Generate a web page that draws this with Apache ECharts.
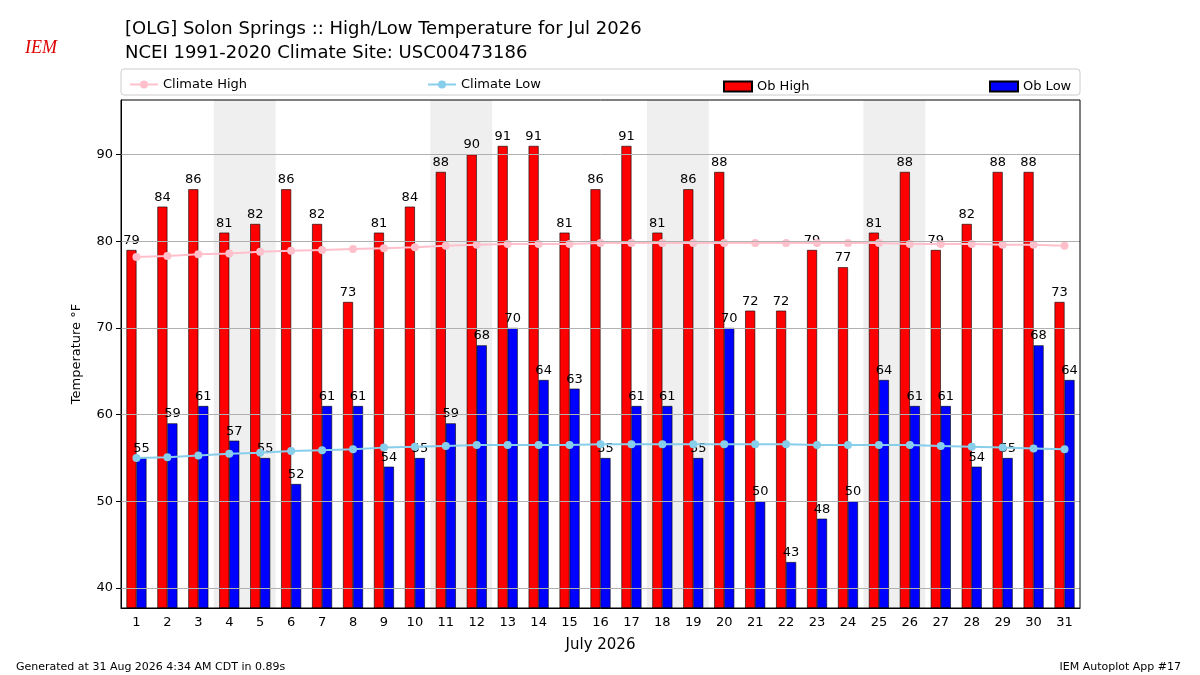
<!DOCTYPE html>
<html><head><meta charset="utf-8">
<script src="https://cdn.jsdelivr.net/npm/echarts@6/dist/echarts.min.js"></script>
<style>html,body{margin:0;padding:0;background:#fff}#main{width:1200px;height:675px}</style>
</head><body><div id="main"></div>
<script>
var days = [];
for (var d = 1; d <= 31; d++) days.push(String(d));
var obHigh = [79,84,86,81,82,86,82,73,81,84,88,90,91,91,81,86,91,81,86,88,72,72,79,77,81,88,79,82,88,88,73];
var obLow = [55,59,61,57,55,52,61,61,54,55,59,68,70,64,63,55,61,61,55,70,50,43,48,50,64,61,61,54,55,68,64];
var climHigh = [78.2,78.3,78.5,78.6,78.8,78.9,79.0,79.1,79.2,79.3,79.5,79.6,79.7,79.7,79.7,79.8,79.8,79.8,79.8,79.8,79.8,79.8,79.8,79.8,79.8,79.7,79.7,79.7,79.6,79.6,79.5];
var climLow = [55.0,55.1,55.3,55.5,55.6,55.8,55.9,56.0,56.2,56.3,56.4,56.5,56.5,56.5,56.5,56.6,56.6,56.6,56.6,56.6,56.6,56.6,56.5,56.5,56.5,56.5,56.4,56.3,56.2,56.1,56.0];
var yTicks = [40,50,60,70,80,90];
var weekends = [[3.5,5.5],[10.5,12.5],[17.5,19.5],[24.5,26.5]];

var font = 'DejaVu Sans';
var myChart = echarts.init(document.getElementById('main'));
var barLabel = {show: true, position: 'top', color: '#000', fontSize: 13, fontFamily: font, distance: 3};

var option = {
    animation: false,
    textStyle: {fontFamily: font},
    title: [
        {text: '[OLG] Solon Springs :: High/Low Temperature for Jul 2026\nNCEI 1991-2020 Climate Site: USC00473186',
         left: 120, top: 12, textStyle: {fontSize: 18, fontWeight: 'normal', color: '#000', lineHeight: 24, fontFamily: font}},
        {text: 'Generated at 31 Aug 2026 4:34 AM CDT in 0.89s', left: 11, top: 657,
         textStyle: {fontSize: 11, fontWeight: 'normal', color: '#000', fontFamily: font}},
        {text: 'IEM Autoplot App #17', right: 14, top: 657,
         textStyle: {fontSize: 11, fontWeight: 'normal', color: '#000', fontFamily: font}},
        {text: 'IEM', left: 20, top: 34, textStyle: {fontSize: 18, fontStyle: 'italic', fontWeight: 'normal', color: '#d00', fontFamily: 'Liberation Serif'}}
    ],
    graphic: [
        {type: 'rect', shape: {x: 121, y: 69, width: 959, height: 26, r: 3}, style: {fill: '#fff', stroke: '#ccc', lineWidth: 1}, z: -1},
        {type: 'rect', shape: {x: 121, y: 100, width: 959, height: 508}, style: {fill: 'none', stroke: '#000', lineWidth: 1}, z: 10, silent: true}
    ],
    legend: [
        {data: ['Climate High'], left: 124, top: 73, itemWidth: 28, itemHeight: 10, textStyle: {fontSize: 13, color: '#000'}},
        {data: ['Climate Low'], left: 422, top: 73, itemWidth: 28, itemHeight: 10, textStyle: {fontSize: 13, color: '#000'}},
        {data: [{name: 'Ob High', icon: 'rect'}], left: 718, top: 75, itemWidth: 28, itemHeight: 10, textStyle: {fontSize: 13, color: '#000'}},
        {data: [{name: 'Ob Low', icon: 'rect'}], left: 984, top: 75, itemWidth: 28, itemHeight: 10, textStyle: {fontSize: 13, color: '#000'}}
    ],
    grid: {left: 121, right: 120, top: 100, bottom: 67},
    xAxis: [
        {type: 'category', data: days,
         name: 'July 2026', nameLocation: 'middle', nameGap: 30, nameTextStyle: {fontSize: 15, color: '#000'},
         axisLine: {lineStyle: {color: '#000'}}, axisTick: {alignWithLabel: true, lineStyle: {color: '#000'}},
         axisLabel: {color: '#000', fontSize: 13, interval: 0}},
        {type: 'value', min: 0.5, max: 31.5, show: false}
    ],
    yAxis: {type: 'value', min: 37.7, max: 96.3,
        name: 'Temperature °F', nameLocation: 'middle', nameGap: 38, nameTextStyle: {fontSize: 13, color: '#000'},
        axisLine: {show: true, lineStyle: {color: '#000'}},
        axisTick: {show: true, customValues: yTicks, lineStyle: {color: '#000'}},
        axisLabel: {color: '#000', fontSize: 13, customValues: yTicks},
        splitLine: {show: false}},
    series: [
        {name: 'bg', type: 'line', xAxisIndex: 1, data: [[1, 0]], showSymbol: false, silent: true, z: 0,
         markArea: {silent: true, itemStyle: {color: '#efefef'},
            data: weekends.map(function (w) { return [{xAxis: w[0]}, {xAxis: w[1]}]; })},
         markLine: {silent: true, symbol: 'none', label: {show: false},
            lineStyle: {color: '#b0b0b0', type: 'solid', width: 1},
            data: yTicks.map(function (v) { return {yAxis: v}; })}},
        {name: 'Ob High', type: 'bar', data: obHigh, barWidth: 10, barGap: '0%', z: 2,
         itemStyle: {color: '#ff0000', borderColor: '#000', borderWidth: 0.6}, label: barLabel},
        {name: 'Ob Low', type: 'bar', data: obLow, barWidth: 10, z: 2,
         itemStyle: {color: '#0000ff', borderColor: '#000', borderWidth: 0.6}, label: barLabel},
        {name: 'Climate High', type: 'line', data: climHigh, symbol: 'circle', symbolSize: 8, z: 3,
         itemStyle: {color: '#ffc0cb'}, lineStyle: {color: '#ffc0cb', width: 2}},
        {name: 'Climate Low', type: 'line', data: climLow, symbol: 'circle', symbolSize: 8, z: 3,
         itemStyle: {color: '#87ceeb'}, lineStyle: {color: '#87ceeb', width: 2}}
    ]
};
myChart.setOption(option);
</script></body></html>
